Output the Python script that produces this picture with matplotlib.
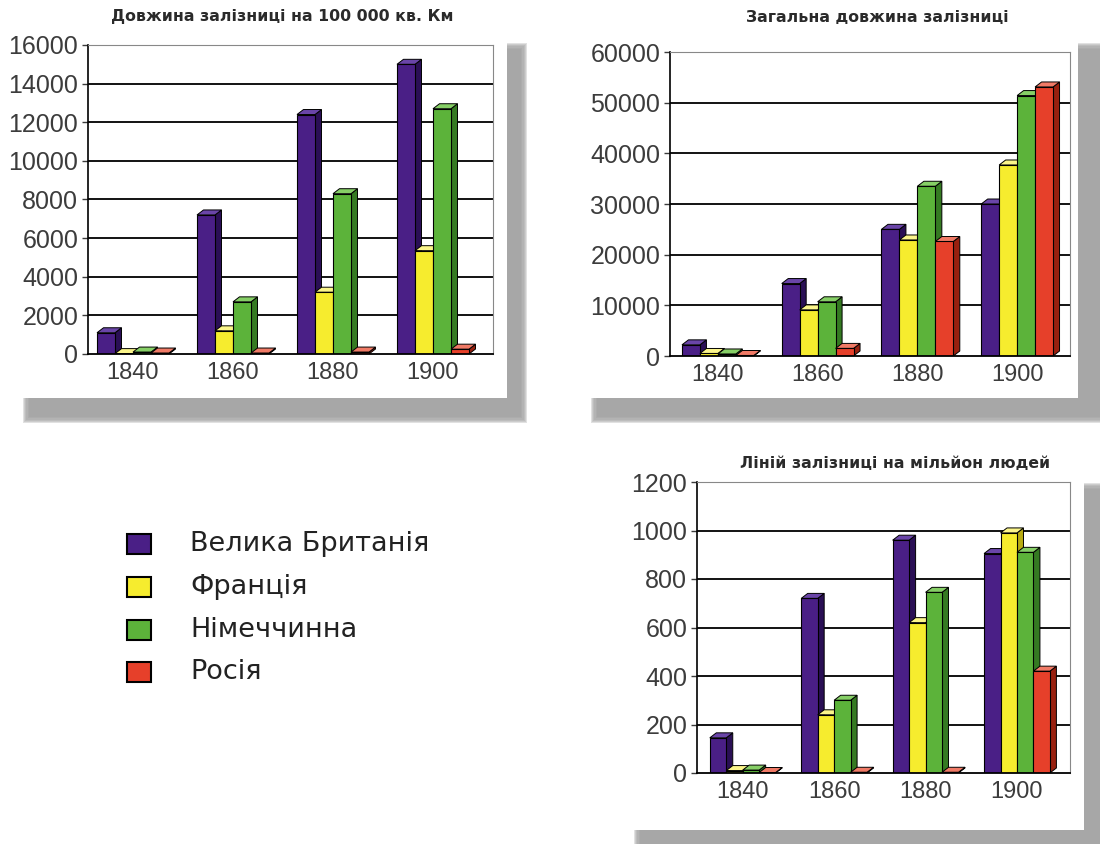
import matplotlib
matplotlib.use("Agg")
import matplotlib.pyplot as plt
from matplotlib.patches import Polygon, Rectangle
import numpy as np

plt.rcParams['font.family'] = ['Liberation Sans', 'DejaVu Sans']

years = ["1840", "1860", "1880", "1900"]
countries = ["Велика Британія", "Франція", "Німеччинна", "Росія"]

# Довжина залізниці на 100 000 кв. Км
density_gb = [1100, 7200, 12400, 15000]
density_fr = [20, 1200, 3200, 5350]
density_de = [100, 2700, 8300, 12700]
density_ru = [50, 50, 100, 250]

# Загальна довжина залізниці
total_gb = [2200, 14300, 25000, 30000]
total_fr = [500, 9100, 22900, 37700]
total_de = [400, 10700, 33500, 51400]
total_ru = [100, 1500, 22600, 53100]

# Ліній залізниці на мільйон людей
permil_gb = [145, 720, 960, 905]
permil_fr = [10, 240, 620, 990]
permil_de = [12, 300, 745, 910]
permil_ru = [2, 3, 3, 420]

title1 = "Довжина залізниці на 100 000 кв. Км"
title2 = "Загальна довжина залізниці"
title3 = "Ліній залізниці на мільйон людей"

front = ["#4a1f86", "#f6ec2e", "#5cb33a", "#e6402a"]
side = ["#2a0f55", "#b8ab12", "#357a22", "#98200f"]
top = ["#6a45a8", "#fbf58a", "#86cf66", "#f07a66"]

W, H = 1100, 844
fig = plt.figure(figsize=(W / 100, H / 100), dpi=100)


def fx(px):
    return px / W


def fy(py):
    return 1 - py / H


def panel(x0, y0, x1, y1, sx0, sy0, sx1, sy1):
    # soft grey shadow
    n = 6
    for i in range(n):
        g = i * 1.2
        e = n * 1.2 - g
        fig.patches.append(Rectangle((fx(sx0 - e), fy(sy1 + e)),
                                     fx(sx1 - sx0 + 2 * e),
                                     (sy1 - sy0 + 2 * e) / H,
                                     transform=fig.transFigure, facecolor="#9c9c9c",
                                     alpha=0.3, edgecolor="none", zorder=0))
    fig.patches.append(Rectangle((fx(x0), fy(y1)), fx(x1 - x0), (y1 - y0) / H,
                                 transform=fig.transFigure, facecolor="white",
                                 edgecolor="none", zorder=1))


panel(0, 25, 507, 398, 30, 50, 520, 416)
panel(572, 25, 1078, 398, 598, 50, 1104, 416)
panel(615, 458, 1084, 830, 641, 490, 1104, 850)


def chart(rect, series, ymax, step, title, title_xy, xlim):
    ax = fig.add_axes(rect, zorder=5)
    ax.set_facecolor("white")
    ax.set_xlim(*xlim)
    ax.set_ylim(0, ymax)
    ax_h_px = rect[3] * H
    ax_w_px = rect[2] * W
    dy = 5.0 / ax_h_px * ymax
    dx = 6.5 / ax_w_px * (xlim[1] - xlim[0])
    ticks = np.arange(0, ymax + 1, step)
    for t in ticks[1:]:
        ax.axhline(t, color="black", lw=1.3, zorder=1)
    w = 0.18
    offs = [-0.27, -0.09, 0.09, 0.27]
    x = np.arange(len(years))
    z = 2
    for gi in range(len(years)):
        for si, vals in enumerate(series):
            v = vals[gi]
            xl = x[gi] + offs[si] - w / 2
            xr = xl + w
            ax.add_patch(Polygon([(xr, 0), (xr + dx, dy), (xr + dx, v + dy), (xr, v)],
                                 closed=True, facecolor=side[si], edgecolor="black",
                                 lw=0.7, zorder=z))
            ax.add_patch(Polygon([(xl, v), (xl + dx, v + dy), (xr + dx, v + dy), (xr, v)],
                                 closed=True, facecolor=top[si], edgecolor="black",
                                 lw=0.7, zorder=z))
            ax.bar(x[gi] + offs[si], v, width=w, color=front[si], edgecolor="black",
                   lw=0.8, zorder=z + 0.01)
            z += 0.02
    ax.set_yticks(ticks)
    ax.set_yticklabels([str(int(t)) for t in ticks], fontsize=18, color="#3c3c3c")
    ax.set_xticks(x)
    ax.set_xticklabels(years, fontsize=17, color="#3c3c3c")
    ax.tick_params(axis="x", length=0, pad=6)
    ax.tick_params(axis="y", length=4, width=1, direction="out", pad=3, colors="#3c3c3c")
    ax.spines["left"].set_color("black")
    ax.spines["left"].set_linewidth(1.2)
    ax.spines["bottom"].set_color("black")
    ax.spines["bottom"].set_linewidth(1.3)
    ax.spines["top"].set_color("#888888")
    ax.spines["top"].set_linewidth(0.8)
    ax.spines["right"].set_color("#888888")
    ax.spines["right"].set_linewidth(0.8)
    fig.text(fx(title_xy[0]), fy(title_xy[1]), title, ha="center", va="center",
             fontsize=11.3, color="#2a2a2a", family=["DejaVu Sans"], weight="bold")
    return ax


chart([fx(88), fy(354), fx(405), 309 / H],
      [density_gb, density_fr, density_de, density_ru], 16000, 2000,
      title1, (282, 17), (-0.45, 3.6))
chart([fx(670), fy(356), fx(400), 304 / H],
      [total_gb, total_fr, total_de, total_ru], 60000, 10000,
      title2, (877, 17), (-0.48, 3.53))
chart([fx(697), fy(773), fx(373), 291 / H],
      [permil_gb, permil_fr, permil_de, permil_ru], 1200, 200,
      title3, (895, 464), (-0.5, 3.58))

# legend
rows = [544, 587, 630, 672]
for i, name in enumerate(countries):
    fig.patches.append(Rectangle((fx(127), fy(rows[i] + 10)), fx(24), 20 / H,
                                 transform=fig.transFigure, facecolor=front[i],
                                 edgecolor="black", lw=1.5, zorder=6))
    fig.text(fx(190), fy(rows[i]), name, ha="left", va="center", fontsize=19.5,
             color="#222222", family=["DejaVu Sans"])

fig.savefig("out.png", dpi=100)
